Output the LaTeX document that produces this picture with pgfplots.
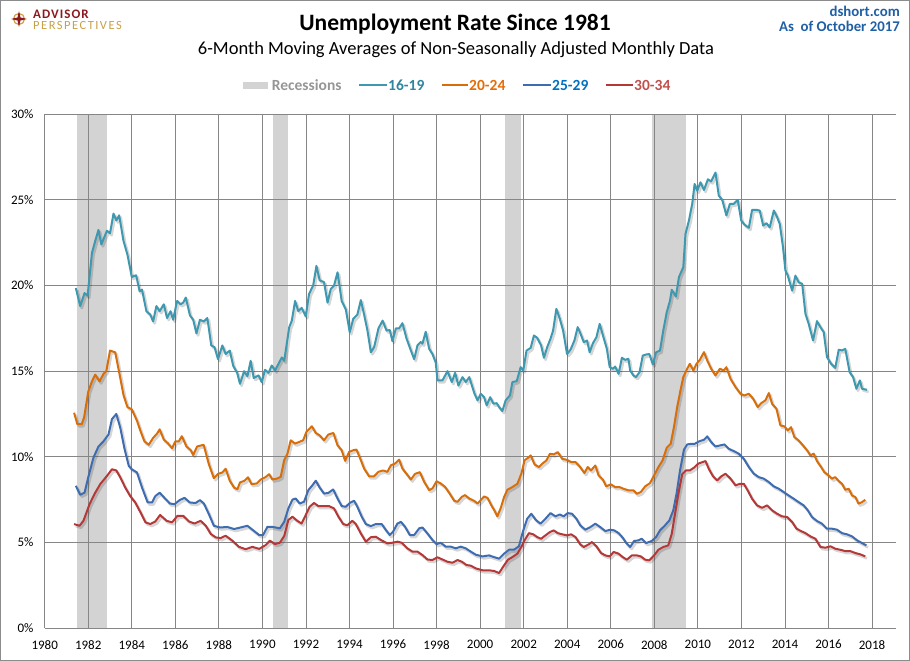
\documentclass[border=0pt]{standalone}
\usepackage{fontspec}
\setmainfont{Carlito}
\usepackage{pgfplots}
\pgfplotsset{compat=1.18}
\definecolor{cA}{RGB}{62,153,176}
\definecolor{cB}{RGB}{215,110,10}
\definecolor{cC}{RGB}{62,108,176}
\definecolor{cD}{RGB}{180,56,56}
\definecolor{tA}{RGB}{49,133,156}
\definecolor{tB}{RGB}{227,108,9}
\definecolor{tC}{RGB}{0,112,192}
\definecolor{tD}{RGB}{192,80,77}
\definecolor{recgray}{RGB}{211,211,211}
\definecolor{gridgray}{RGB}{134,134,134}
\definecolor{leggray}{RGB}{150,150,150}
\definecolor{framegray}{RGB}{140,140,140}
\definecolor{dshortblue}{RGB}{31,95,165}
\definecolor{logored}{RGB}{140,25,30}
\definecolor{logogold}{RGB}{200,160,70}
\pgfplotsset{dropshadow/.style={preaction={draw=black, draw opacity=0.16, line width=2.6pt, transform canvas={xshift=1.6pt,yshift=-2pt}}}}
\begin{document}
\begin{tikzpicture}
\begin{axis}[set layers,
  at={(44.7pt,33pt)}, anchor=south west,
  scale only axis, width=851.3pt, height=513.7pt,
  xmin=1980, xmax=2019.1, ymin=0, ymax=30,
  xtick={1980,1982,...,2018}, ytick={0,5,...,30},
  grid=major, major grid style={draw=gridgray, line width=0.9pt},
  axis line style={draw=none}, major tick length=0pt,
  tick label style={font=\fontsize{13}{15}\selectfont, color=black},
  /pgf/number format/assume math mode=true,
  /pgf/number format/1000 sep={},
  yticklabel={\pgfmathprintnumber{\tick}\%},
  yticklabel style={anchor=east, inner sep=0pt, xshift=-11pt},
  xticklabel style={anchor=north, inner sep=0pt, yshift=-12pt},
  no markers,
  every axis plot/.append style={line width=2pt, line join=round}]
% recessions
\addplot[fill=recgray, draw=none, on layer=axis background] coordinates {(1981.47,30) (1982.86,30)} \closedcycle;
\addplot[fill=recgray, draw=none, on layer=axis background] coordinates {(1990.49,30) (1991.19,30)} \closedcycle;
\addplot[fill=recgray, draw=none, on layer=axis background] coordinates {(2001.14,30) (2001.89,30)} \closedcycle;
\addplot[fill=recgray, draw=none, on layer=axis background] coordinates {(2007.88,30) (2009.46,30)} \closedcycle;
% 16-19
\addplot[cA, dropshadow] coordinates {
(1981.43,19.85)(1981.63,18.8)(1981.83,19.56)(1981.97,19.4)(1982.17,21.9)(1982.32,22.6)(1982.47,23.25)(1982.6,22.4)(1982.86,23.2)(1983.0,23.05)(1983.16,24.2)(1983.29,23.8)(1983.42,24.1)(1983.62,22.6)(1983.8,21.8)(1984.0,20.5)(1984.2,20.6)(1984.36,19.66)(1984.47,19.76)(1984.67,18.5)(1984.85,18.3)(1984.98,17.9)(1985.13,18.8)(1985.28,18.5)(1985.47,18.9)(1985.62,18.1)(1985.78,18.5)(1985.9,18.0)(1986.08,19.1)(1986.24,18.9)(1986.36,19.0)(1986.48,19.3)(1986.67,18.26)(1986.82,18.0)(1986.97,17.2)(1987.13,18.0)(1987.31,17.9)(1987.47,18.1)(1987.65,16.5)(1987.8,16.4)(1987.96,15.7)(1988.16,16.5)(1988.31,16.0)(1988.5,16.2)(1988.66,15.3)(1988.84,14.9)(1988.97,14.26)(1989.16,15.0)(1989.31,14.7)(1989.46,15.6)(1989.6,14.6)(1989.82,14.75)(1989.97,14.36)(1990.12,15.08)(1990.28,14.9)(1990.43,15.33)(1990.58,15.04)(1990.74,15.43)(1990.89,15.8)(1991.0,15.6)(1991.23,17.56)(1991.35,17.95)(1991.5,19.1)(1991.65,18.5)(1991.8,18.7)(1991.99,18.2)(1992.14,19.5)(1992.33,20.0)(1992.48,21.15)(1992.63,20.3)(1992.83,20.2)(1992.99,19.0)(1993.14,19.8)(1993.29,20.0)(1993.45,20.77)(1993.64,19.1)(1993.83,18.6)(1994.01,17.27)(1994.17,18.05)(1994.36,18.3)(1994.52,19.15)(1994.67,18.3)(1994.82,17.4)(1994.98,16.1)(1995.13,16.4)(1995.33,17.5)(1995.52,17.95)(1995.7,17.37)(1995.85,17.4)(1995.97,16.75)(1996.13,17.5)(1996.28,17.5)(1996.43,17.8)(1996.62,16.9)(1996.82,16.2)(1996.97,15.7)(1997.12,16.5)(1997.27,16.7)(1997.35,16.6)(1997.5,17.3)(1997.66,16.3)(1997.81,16.0)(1997.96,15.5)(1998.04,14.46)(1998.27,14.46)(1998.5,15.0)(1998.7,14.36)(1998.85,14.9)(1999.0,14.16)(1999.19,14.65)(1999.34,14.36)(1999.5,14.65)(1999.73,13.72)(1999.88,13.29)(2000.03,13.68)(2000.18,13.48)(2000.3,13.0)(2000.46,13.48)(2000.61,13.1)(2000.76,13.13)(2000.87,12.9)(2001.02,12.67)(2001.17,13.29)(2001.37,13.58)(2001.48,14.36)(2001.68,14.42)(2001.86,15.23)(2001.98,15.04)(2002.13,16.2)(2002.32,16.36)(2002.47,17.08)(2002.62,16.95)(2002.8,16.5)(2002.93,15.78)(2003.08,16.4)(2003.23,16.89)(2003.35,17.37)(2003.5,18.64)(2003.66,18.05)(2003.81,17.37)(2003.99,16.0)(2004.15,16.25)(2004.33,16.79)(2004.48,17.57)(2004.6,17.22)(2004.76,16.69)(2004.91,16.79)(2005.03,16.1)(2005.18,16.63)(2005.34,16.98)(2005.49,17.76)(2005.64,17.08)(2005.82,16.3)(2005.95,15.23)(2006.1,15.14)(2006.2,15.27)(2006.36,14.84)(2006.51,15.78)(2006.66,15.66)(2006.81,15.72)(2006.89,15.04)(2007.04,14.75)(2007.16,14.65)(2007.32,14.94)(2007.47,15.91)(2007.62,15.97)(2007.77,16.0)(2007.93,15.39)(2008.08,16.1)(2008.26,16.2)(2008.41,17.37)(2008.57,18.44)(2008.72,19.12)(2008.8,19.75)(2008.99,19.36)(2009.13,20.49)(2009.33,21.07)(2009.43,23.0)(2009.59,23.8)(2009.74,24.77)(2009.85,25.93)(2009.97,25.54)(2010.12,26.03)(2010.28,25.58)(2010.46,26.2)(2010.61,26.08)(2010.81,26.6)(2010.96,25.25)(2011.12,25.0)(2011.31,24.09)(2011.47,24.77)(2011.65,24.77)(2011.83,25.0)(2011.99,23.8)(2012.14,23.56)(2012.34,23.37)(2012.49,24.42)(2012.69,24.42)(2012.84,24.38)(2013.0,23.5)(2013.15,23.64)(2013.3,23.4)(2013.49,24.38)(2013.64,23.99)(2013.76,23.6)(2013.91,22.24)(2014.02,20.88)(2014.13,20.58)(2014.33,19.7)(2014.48,20.58)(2014.63,20.19)(2014.79,20.1)(2014.94,18.35)(2015.09,17.76)(2015.29,16.79)(2015.47,17.92)(2015.63,17.57)(2015.78,17.28)(2015.93,15.82)(2016.12,15.43)(2016.31,15.19)(2016.47,16.25)(2016.62,16.21)(2016.77,16.3)(2016.97,14.94)(2017.13,14.65)(2017.28,13.97)(2017.44,14.46)(2017.54,13.97)(2017.77,13.91)};
% 20-24
\addplot[cB, dropshadow] coordinates {
(1981.35,12.57)(1981.5,11.9)(1981.7,11.9)(1981.81,12.3)(1982.0,13.8)(1982.17,14.4)(1982.32,14.8)(1982.52,14.4)(1982.7,14.84)(1982.83,15.0)(1983.0,16.2)(1983.24,16.1)(1983.47,14.6)(1983.62,13.6)(1983.8,12.9)(1984.0,12.77)(1984.24,12.1)(1984.4,11.5)(1984.58,10.9)(1984.78,10.7)(1984.98,11.1)(1985.16,11.35)(1985.28,11.6)(1985.47,11.0)(1985.65,10.8)(1985.85,10.5)(1986.0,10.9)(1986.16,10.9)(1986.3,11.2)(1986.51,10.6)(1986.7,10.4)(1986.82,10.1)(1987.0,10.6)(1987.3,10.7)(1987.54,9.56)(1987.77,8.75)(1987.96,9.0)(1988.16,9.08)(1988.31,9.3)(1988.5,8.6)(1988.7,8.2)(1988.85,8.1)(1988.97,8.5)(1989.18,8.6)(1989.34,8.8)(1989.5,8.4)(1989.74,8.44)(1989.92,8.67)(1990.12,8.79)(1990.31,8.98)(1990.46,8.67)(1990.69,8.73)(1990.84,8.83)(1991.0,9.8)(1991.15,10.18)(1991.3,10.96)(1991.5,10.77)(1991.68,10.86)(1991.87,10.96)(1992.02,11.45)(1992.27,11.78)(1992.45,11.39)(1992.63,11.25)(1992.83,10.96)(1993.03,11.3)(1993.26,11.39)(1993.45,10.67)(1993.64,10.38)(1993.8,9.76)(1993.98,10.28)(1994.17,10.38)(1994.32,10.42)(1994.52,9.8)(1994.67,9.31)(1994.9,8.86)(1995.13,8.86)(1995.33,9.12)(1995.54,9.2)(1995.74,9.12)(1995.9,9.5)(1996.09,9.6)(1996.28,9.83)(1996.43,9.31)(1996.62,9.0)(1996.82,8.67)(1997.01,9.0)(1997.23,9.1)(1997.43,8.53)(1997.66,8.05)(1997.81,8.15)(1998.0,8.57)(1998.19,8.44)(1998.39,8.24)(1998.58,7.89)(1998.81,7.43)(1998.96,7.37)(1999.16,7.66)(1999.31,7.76)(1999.5,7.56)(1999.72,7.43)(1999.88,7.27)(2000.03,7.47)(2000.18,7.68)(2000.34,7.6)(2000.49,7.22)(2000.67,6.83)(2000.79,6.52)(2000.95,7.02)(2001.1,7.65)(2001.25,8.07)(2001.48,8.23)(2001.71,8.42)(2001.89,9.0)(2002.04,9.79)(2002.2,9.94)(2002.32,10.08)(2002.5,9.55)(2002.7,9.4)(2002.85,9.59)(2003.05,9.79)(2003.2,10.17)(2003.38,10.14)(2003.57,10.27)(2003.77,9.88)(2003.99,9.82)(2004.18,9.69)(2004.38,9.69)(2004.57,9.44)(2004.79,9.05)(2004.94,9.4)(2005.09,9.2)(2005.29,9.49)(2005.44,8.91)(2005.64,8.66)(2005.79,8.27)(2006.0,8.39)(2006.2,8.23)(2006.4,8.23)(2006.59,8.13)(2006.81,8.04)(2007.04,8.04)(2007.2,7.84)(2007.38,7.94)(2007.58,8.27)(2007.8,8.46)(2007.99,8.91)(2008.19,9.4)(2008.38,9.79)(2008.57,10.53)(2008.75,10.75)(2008.9,11.73)(2009.05,12.9)(2009.2,13.87)(2009.33,14.65)(2009.51,15.14)(2009.63,15.43)(2009.79,15.04)(2009.94,15.43)(2010.09,15.66)(2010.28,16.11)(2010.43,15.62)(2010.61,15.14)(2010.81,14.75)(2011.01,15.14)(2011.19,15.04)(2011.31,15.23)(2011.5,14.55)(2011.73,14.07)(2011.96,13.68)(2012.14,13.58)(2012.34,13.68)(2012.54,13.39)(2012.75,12.9)(2012.91,13.13)(2013.1,13.29)(2013.26,13.72)(2013.41,13.09)(2013.61,12.8)(2013.79,11.83)(2013.98,11.77)(2014.13,11.54)(2014.28,11.73)(2014.43,11.15)(2014.63,10.95)(2014.83,10.66)(2015.02,10.37)(2015.17,10.08)(2015.32,10.18)(2015.47,9.75)(2015.66,9.4)(2015.81,9.1)(2016.01,8.91)(2016.16,8.72)(2016.31,8.81)(2016.47,8.58)(2016.62,8.42)(2016.77,8.07)(2016.93,8.13)(2017.08,7.74)(2017.23,7.65)(2017.38,7.26)(2017.54,7.35)(2017.69,7.49)};
% 25-29
\addplot[cC, dropshadow] coordinates {
(1981.43,8.3)(1981.63,7.78)(1981.83,7.9)(1982.0,8.8)(1982.24,9.95)(1982.47,10.6)(1982.7,10.9)(1982.93,11.3)(1983.09,12.2)(1983.29,12.5)(1983.47,11.7)(1983.66,10.5)(1983.86,9.47)(1984.0,9.27)(1984.24,9.08)(1984.47,8.2)(1984.73,7.33)(1984.93,7.33)(1985.08,7.7)(1985.28,7.9)(1985.5,7.6)(1985.75,7.27)(1985.96,7.23)(1986.2,7.47)(1986.42,7.6)(1986.67,7.33)(1986.93,7.3)(1987.13,7.47)(1987.31,7.27)(1987.54,6.65)(1987.77,5.97)(1988.05,5.87)(1988.39,5.9)(1988.7,5.78)(1989.0,5.87)(1989.31,5.97)(1989.6,5.68)(1989.85,5.43)(1990.03,5.43)(1990.23,5.91)(1990.43,5.91)(1990.61,5.87)(1990.8,5.82)(1991.0,6.2)(1991.19,6.98)(1991.38,7.5)(1991.53,7.56)(1991.71,7.27)(1991.91,7.37)(1992.11,8.05)(1992.3,8.34)(1992.45,8.6)(1992.63,8.2)(1992.83,7.85)(1993.03,7.89)(1993.25,8.09)(1993.45,7.56)(1993.64,7.12)(1993.83,7.08)(1994.01,7.3)(1994.21,7.43)(1994.36,7.08)(1994.56,6.5)(1994.75,6.07)(1994.98,5.95)(1995.21,6.07)(1995.48,6.07)(1995.67,5.72)(1995.85,5.43)(1996.0,5.62)(1996.2,6.1)(1996.36,6.2)(1996.55,5.91)(1996.77,5.43)(1996.97,5.43)(1997.2,5.82)(1997.35,5.87)(1997.58,5.52)(1997.81,5.14)(1998.0,4.9)(1998.19,4.98)(1998.42,4.75)(1998.65,4.75)(1998.88,4.65)(1999.11,4.75)(1999.34,4.65)(1999.57,4.46)(1999.8,4.28)(2000.11,4.18)(2000.41,4.24)(2000.64,4.14)(2000.87,4.05)(2001.1,4.34)(2001.33,4.57)(2001.55,4.57)(2001.78,4.77)(2001.98,5.7)(2002.16,6.38)(2002.35,6.67)(2002.55,6.32)(2002.77,6.09)(2003.0,6.38)(2003.23,6.71)(2003.46,6.52)(2003.66,6.63)(2003.84,6.52)(2004.02,6.71)(2004.22,6.67)(2004.42,6.38)(2004.6,5.99)(2004.83,5.74)(2005.06,5.89)(2005.29,6.09)(2005.52,5.89)(2005.75,5.66)(2005.98,5.74)(2006.16,5.7)(2006.36,5.54)(2006.55,5.27)(2006.71,4.96)(2006.89,4.73)(2007.07,5.08)(2007.27,5.12)(2007.42,5.21)(2007.62,4.96)(2007.88,5.08)(2008.08,5.31)(2008.26,5.7)(2008.49,5.99)(2008.69,6.28)(2008.87,6.87)(2009.02,7.84)(2009.18,9.2)(2009.36,10.41)(2009.51,10.72)(2009.71,10.76)(2009.86,10.76)(2010.06,10.9)(2010.28,10.99)(2010.43,11.19)(2010.61,10.86)(2010.81,10.6)(2011.01,10.66)(2011.22,10.72)(2011.42,10.47)(2011.65,10.33)(2011.88,10.18)(2012.11,9.88)(2012.34,9.4)(2012.57,9.01)(2012.8,8.81)(2013.03,8.72)(2013.26,8.52)(2013.49,8.27)(2013.72,8.13)(2013.94,7.94)(2014.17,7.74)(2014.4,7.55)(2014.63,7.35)(2014.86,7.16)(2015.05,6.87)(2015.24,6.48)(2015.47,6.25)(2015.7,6.09)(2015.93,5.8)(2016.16,5.8)(2016.39,5.74)(2016.62,5.54)(2016.85,5.47)(2017.08,5.35)(2017.31,5.12)(2017.54,4.96)(2017.74,4.82)};
% 30-34
\addplot[cD, dropshadow] coordinates {
(1981.35,6.07)(1981.6,5.97)(1981.78,6.26)(1982.06,7.23)(1982.32,7.9)(1982.55,8.4)(1982.86,8.88)(1983.09,9.27)(1983.29,9.2)(1983.47,8.8)(1983.7,8.2)(1983.93,7.7)(1984.16,7.33)(1984.4,6.75)(1984.63,6.17)(1984.85,6.07)(1985.08,6.22)(1985.3,6.6)(1985.6,6.26)(1985.85,6.17)(1986.1,6.55)(1986.36,6.55)(1986.63,6.22)(1986.88,6.1)(1987.16,6.26)(1987.4,5.97)(1987.63,5.49)(1987.86,5.29)(1988.08,5.25)(1988.31,5.39)(1988.62,5.1)(1988.92,4.74)(1989.23,4.6)(1989.54,4.74)(1989.85,4.62)(1990.15,4.84)(1990.34,5.1)(1990.58,4.9)(1990.8,4.98)(1991.0,5.37)(1991.19,6.3)(1991.38,6.5)(1991.6,6.26)(1991.8,6.1)(1991.99,6.6)(1992.17,7.08)(1992.37,7.3)(1992.57,7.12)(1992.83,7.12)(1993.06,7.12)(1993.29,6.98)(1993.49,6.5)(1993.71,6.07)(1993.9,6.0)(1994.13,6.26)(1994.29,6.07)(1994.52,5.52)(1994.75,5.04)(1994.98,5.3)(1995.21,5.33)(1995.44,5.14)(1995.74,4.94)(1995.97,4.98)(1996.2,5.04)(1996.4,4.98)(1996.66,4.65)(1996.89,4.46)(1997.12,4.46)(1997.35,4.26)(1997.58,4.0)(1997.81,3.97)(1998.04,4.13)(1998.27,4.0)(1998.5,3.87)(1998.73,3.81)(1998.96,3.97)(1999.16,3.87)(1999.37,3.68)(1999.57,3.64)(1999.8,3.48)(2000.11,3.37)(2000.41,3.37)(2000.64,3.33)(2000.87,3.21)(2001.1,3.66)(2001.28,3.99)(2001.48,4.14)(2001.71,4.34)(2001.89,4.73)(2002.04,5.12)(2002.24,5.54)(2002.44,5.47)(2002.62,5.31)(2002.8,5.21)(2003.0,5.41)(2003.2,5.6)(2003.38,5.7)(2003.57,5.54)(2003.77,5.47)(2003.99,5.41)(2004.18,5.47)(2004.38,5.31)(2004.6,4.88)(2004.76,4.73)(2004.98,4.88)(2005.14,5.02)(2005.34,4.77)(2005.55,4.38)(2005.75,4.24)(2005.95,4.18)(2006.13,4.44)(2006.36,4.34)(2006.55,4.14)(2006.74,3.99)(2006.97,4.24)(2007.2,4.24)(2007.38,4.18)(2007.58,3.99)(2007.77,3.95)(2007.99,4.24)(2008.19,4.57)(2008.41,4.73)(2008.64,4.82)(2008.8,5.5)(2008.95,6.67)(2009.1,7.84)(2009.28,8.97)(2009.45,9.2)(2009.63,9.2)(2009.82,9.36)(2010.02,9.6)(2010.35,9.75)(2010.5,9.3)(2010.7,8.85)(2010.89,8.62)(2011.07,8.85)(2011.27,9.01)(2011.5,8.72)(2011.73,8.33)(2011.93,8.42)(2012.11,8.42)(2012.29,8.03)(2012.49,7.55)(2012.72,7.16)(2012.95,7.02)(2013.18,7.16)(2013.41,6.87)(2013.64,6.67)(2013.87,6.52)(2014.1,6.48)(2014.33,6.19)(2014.53,5.8)(2014.74,5.66)(2014.94,5.54)(2015.17,5.35)(2015.4,5.21)(2015.63,4.73)(2015.86,4.69)(2016.09,4.77)(2016.31,4.63)(2016.54,4.57)(2016.77,4.49)(2017.0,4.49)(2017.23,4.38)(2017.46,4.3)(2017.69,4.18)};
\end{axis}
\begin{scope}[x=1pt,y=1pt]
% frame (also sets the picture size)
\draw[framegray, line width=1pt] (0.5,0.5) rectangle (909.5,660.5);
% titles
\node[anchor=base, inner sep=0pt] at (455,630) {\fontsize{23.5}{26}\selectfont\bfseries Unemployment Rate Since 1981};
\node[anchor=base, inner sep=0pt] at (456,606) {\fontsize{18.5}{21}\selectfont 6-Month Moving Averages of Non-Seasonally Adjusted Monthly Data};
\node[anchor=base east, inner sep=0pt, text=dshortblue] at (900,644) {\fontsize{14.8}{17}\selectfont\bfseries dshort.com};
\node[anchor=base east, inner sep=0pt, text=dshortblue] at (900,629.5) {\fontsize{14.8}{17}\selectfont\bfseries As\ \ of October 2017};
% logo
\draw[logogold, line width=1.2pt] (19,642) circle (5.5);
\fill[logored] (19,650) -- (20.5,643.5) -- (27,642) -- (20.5,640.5) -- (19,634) -- (17.5,640.5) -- (11,642) -- (17.5,643.5) -- cycle;
\node[anchor=base west, inner sep=0pt, text=logored] at (33,642) {\fontsize{13}{13}\selectfont\addfontfeatures{LetterSpace=8}\bfseries ADVISOR};
\node[anchor=base west, inner sep=0pt, text=logogold] at (33,631) {\fontsize{12.5}{13}\selectfont\addfontfeatures{LetterSpace=12}PERSPECTIVES};
% legend
\fill[recgray] (243,571.7) rectangle (268,579.3);
\node[anchor=base west, inner sep=0pt, text=leggray] at (271.7,570.5) {\fontsize{15.5}{18}\selectfont\bfseries Recessions};
\draw[cA, line width=2.2pt] (359,576) -- (387,576);
\node[anchor=base west, inner sep=0pt, text=tA] at (388,570.5) {\fontsize{15.5}{18}\selectfont\bfseries 16-19};
\draw[cB, line width=2.2pt] (442,576) -- (468,576);
\node[anchor=base west, inner sep=0pt, text=tB] at (469,570.5) {\fontsize{15.5}{18}\selectfont\bfseries 20-24};
\draw[cC, line width=2.2pt] (523,576) -- (551,576);
\node[anchor=base west, inner sep=0pt, text=tC] at (552,570.5) {\fontsize{15.5}{18}\selectfont\bfseries 25-29};
\draw[cD, line width=2.2pt] (606,576) -- (633,576);
\node[anchor=base west, inner sep=0pt, text=tD] at (634,570.5) {\fontsize{15.5}{18}\selectfont\bfseries 30-34};
\end{scope}
\end{tikzpicture}
\end{document}
